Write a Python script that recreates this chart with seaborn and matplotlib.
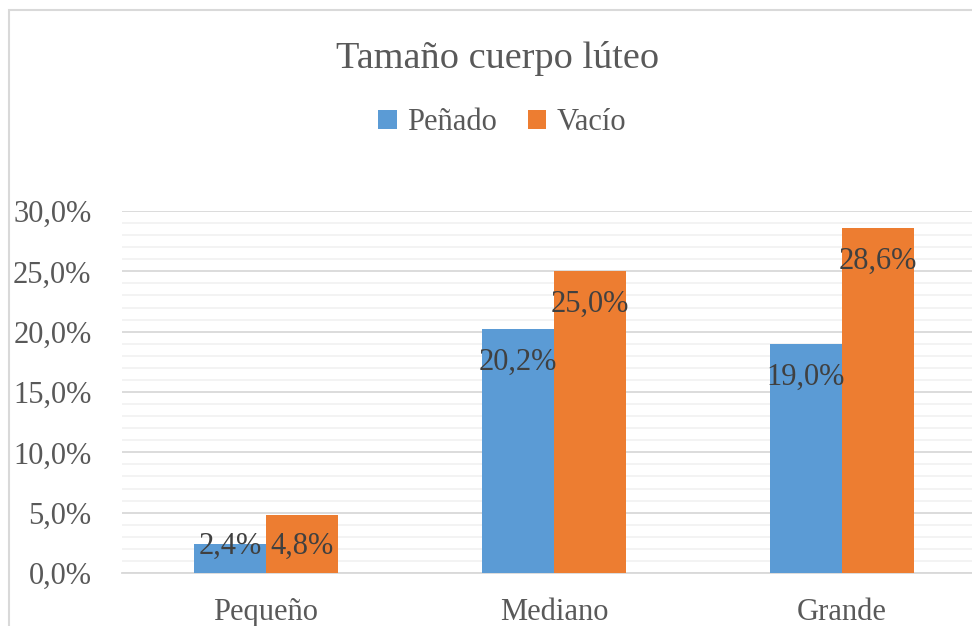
import pandas as pd
import seaborn as sns
import matplotlib.pyplot as plt
from matplotlib.patches import Rectangle
from matplotlib.ticker import FuncFormatter, MultipleLocator

# data (percent)
categorias = ['Pequeño', 'Mediano', 'Grande']
penado = [2.4, 20.2, 19.0]
vacio = [4.8, 25.0, 28.6]
series = ['Peñado', 'Vacío']
colores = ['#5B9BD5', '#ED7D31']

df = pd.DataFrame({
    'categoria': categorias * 2,
    'valor': penado + vacio,
    'serie': [series[0]] * 3 + [series[1]] * 3,
})

sns.set_style('white')
plt.rcParams['font.family'] = ['Liberation Serif', 'DejaVu Serif']

fig = plt.figure(figsize=(9.72, 6.26), dpi=100)
ax = fig.add_axes([122 / 972, 53 / 626, 864 / 972, 362 / 626])

sns.barplot(data=df, x='categoria', y='valor', hue='serie', palette=colores,
            width=0.5, ax=ax, saturation=1, edgecolor='none', zorder=3)

ax.set_ylim(0, 30)
ax.set_xlim(-0.5, 2.5)
ax.yaxis.set_major_locator(MultipleLocator(5))
ax.yaxis.set_minor_locator(MultipleLocator(1))
ax.yaxis.set_major_formatter(FuncFormatter(lambda v, p: f'{v:.1f}%'.replace('.', ',')))
ax.grid(axis='y', which='major', color='#D9D9D9', linewidth=1.3, zorder=0)
ax.grid(axis='y', which='minor', color='#F2F2F2', linewidth=1.3, zorder=0)
ax.set_axisbelow(True)
for s in ['top', 'right', 'left']:
    ax.spines[s].set_visible(False)
ax.spines['bottom'].set_color('#D9D9D9')
ax.spines['bottom'].set_linewidth(1.3)
ax.tick_params(axis='y', which='both', length=0, pad=22, labelsize=22, labelcolor='#595959')
ax.tick_params(axis='x', length=0, pad=18, labelsize=22, labelcolor='#595959')
ax.set_xlabel('')
ax.set_ylabel('')

# data labels, inside end
for container, vals in zip(ax.containers, [penado, vacio]):
    for bar, v in zip(container, vals):
        xc = bar.get_x() + bar.get_width() / 2
        yl = max(v - 2.75, 2.2)
        ax.text(xc, yl, f'{v:.1f}%'.replace('.', ','), ha='center', va='center',
                fontsize=22, color='#404040', zorder=5)

handles, labels = ax.get_legend_handles_labels()
ax.get_legend().remove()
fig.legend(handles, labels, loc='center', bbox_to_anchor=(0.517, 1 - 123 / 626),
           ncol=2, frameon=False, fontsize=22, labelcolor='#595959',
           handlelength=0.6, handleheight=0.6, handletextpad=0.35, columnspacing=1.0)

fig.text(0.512, 1 - 59 / 626, 'Tamaño cuerpo lúteo', ha='center', va='center',
         fontsize=27.5, color='#595959')

# chart frame (cut on the right and bottom)
fig.patches.append(Rectangle((8.5 / 972, -0.1), 1.2, 1.1 - 10 / 626,
                             transform=fig.transFigure, fill=False,
                             edgecolor='#D9D9D9', linewidth=1.5))

fig.savefig('out.png', dpi=100)
